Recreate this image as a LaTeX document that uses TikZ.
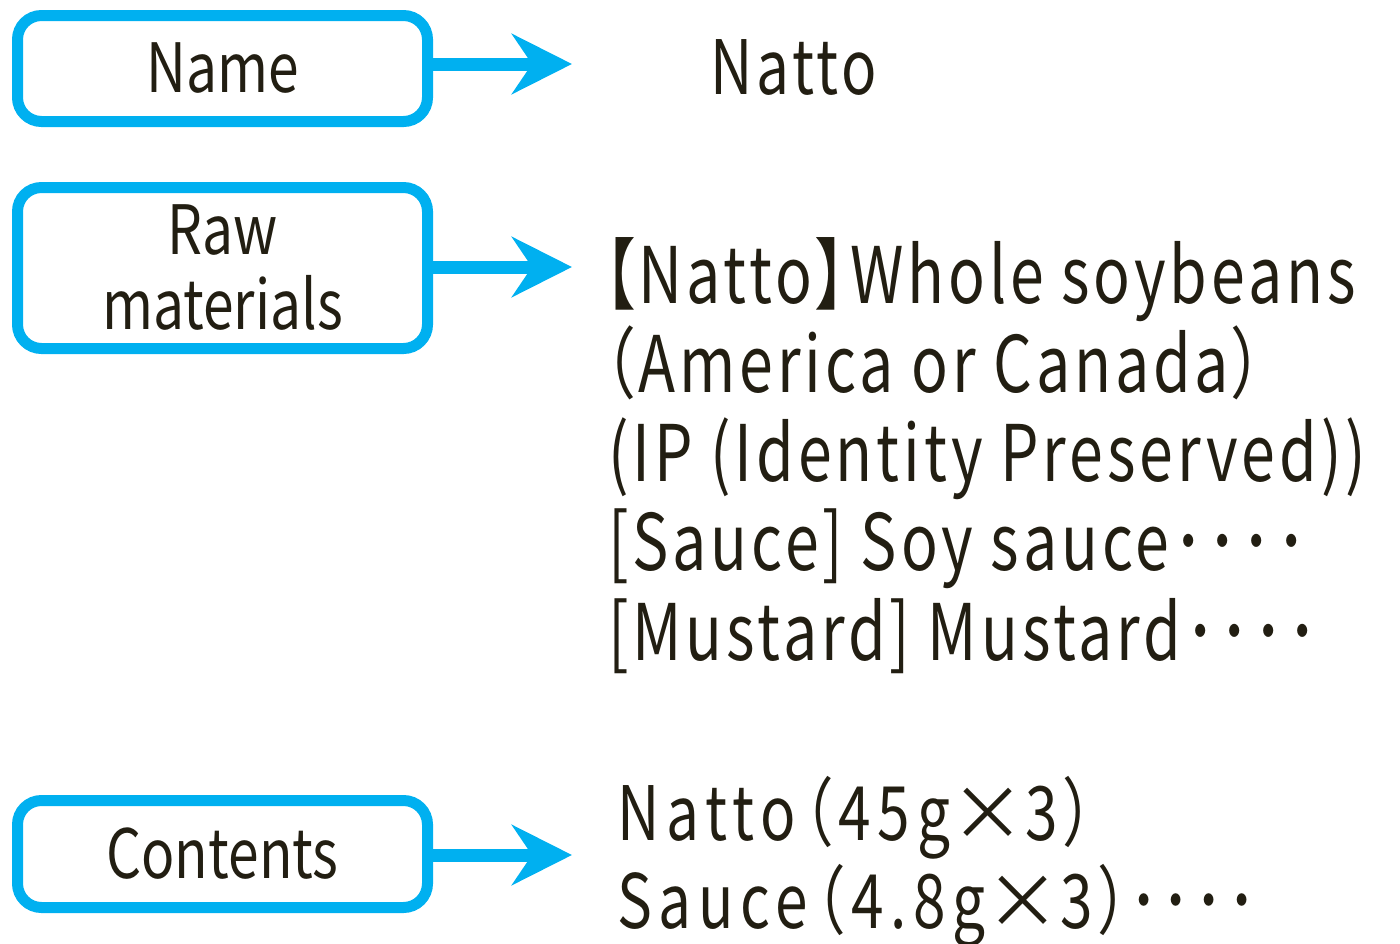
\documentclass[tikz,border=0pt]{standalone}
\usepackage{fontspec}
\usetikzlibrary{arrows.meta,positioning}
\newfontfamily\boxfont{Noto Sans CJK JP}[RawFeature=+palt, FakeStretch=0.81]
\newfontfamily\itemfont{Noto Sans CJK JP}[RawFeature=+palt, FakeStretch=0.78, LetterSpace=5]
\newfontfamily\packfont{Noto Sans CJK JP}[RawFeature=+palt, FakeStretch=0.78, LetterSpace=9]
\newfontfamily\widefont{Noto Sans CJK JP}[RawFeature=+fwid]
\definecolor{nattoblue}{RGB}{0,176,240}
\definecolor{inkdark}{RGB}{34,30,18}

\begin{document}
\begin{tikzpicture}[x=1pt, y=-1pt,
  labelbox/.style={draw=nattoblue, line width=11pt, rounded corners=24pt,
    minimum width=410pt, align=center, text=inkdark,
    font=\boxfont\fontsize{68}{75}\selectfont},
  pointer/.style={draw=nattoblue, line width=13pt,
    -{Stealth[length=60pt, width=60pt, inset=20pt]}},
  item/.style={anchor=base west, inner sep=0pt, text=inkdark,
    font=\itemfont\fontsize{78}{90}\selectfont},
  pack/.style={item, font=\packfont\fontsize{75}{80}\selectfont}]
\useasboundingbox (0,0) rectangle (1400,943);
% Boxes on the left
\node[labelbox, minimum height=106pt] (name) at (222.5,68.5) {Name};
\node[labelbox, minimum height=161pt] (raw) at (222.5,268) {Raw\\materials};
\node[labelbox, minimum height=107pt] (contents) at (222.5,854) {Contents};
% Arrow tips
\coordinate (nametip) at (572,64);
\coordinate (rawtip) at (572,267);
\coordinate (contentstip) at (572,855);
\draw[pointer] (name.east |- nametip) -- (nametip);
\draw[pointer] (raw.east |- rawtip) -- (rawtip);
\draw[pointer] (contents.east |- contentstip) -- (contentstip);
% Text on the right
\node[item, font=\itemfont\fontsize{75}{80}\selectfont] (natto) at (710,94) {Natto};
\node[item] (soy) at (604,303) {【Natto】Whole soybeans};
\node[item] (origin) at (604,392) {（America or Canada）};
\node[item] (ip) at (608,481) {(IP (Identity Preserved))};
\node[item] (sauce) at (608,570) {[Sauce] Soy sauce････};
\node[item] (mustard) at (608,660) {[Mustard] Mustard････};
\node[pack] (packs) at (617,840) {Natto（45g{\widefont ×}3）};
\node[pack] (saucepack) at (617,928) {Sauce（4.8g{\widefont ×}3）{\itemfont ････}};
\end{tikzpicture}
\end{document}
